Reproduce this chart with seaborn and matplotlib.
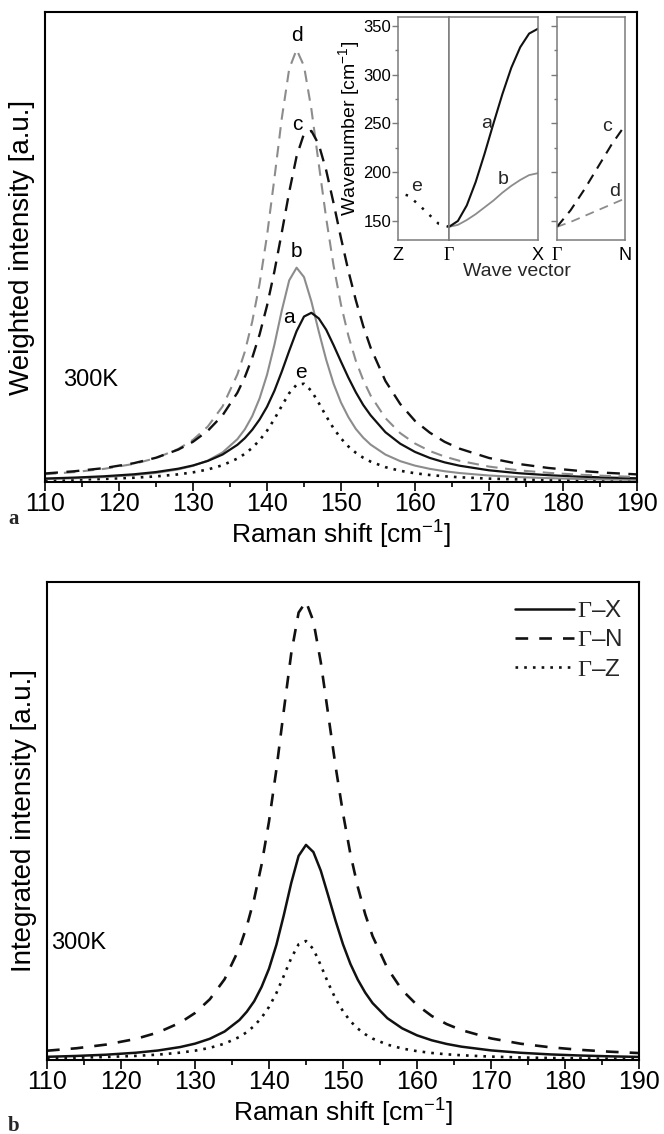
import matplotlib
matplotlib.use("Agg")
import matplotlib.pyplot as plt
import seaborn as sns
from matplotlib.ticker import FixedLocator, MultipleLocator

# ---------------- data ----------------
raman_shift = [110, 114, 118, 122, 125, 128, 130, 132, 134, 136, 137, 138, 139, 140,
               141, 142, 143, 144, 145, 146, 147, 148, 149, 150, 151, 152, 153, 154,
               156, 158, 160, 162, 164, 166, 170, 174, 178, 182, 186, 190]

# panel a: weighted intensity (a.u.)
w_a = [0.74, 0.94, 1.22, 1.64, 2.12, 2.83, 3.52, 4.48, 5.85, 7.91, 9.32, 11.1, 13.3, 16.0,
       19.4, 23.5, 27.9, 32.1, 35.2, 36.0, 34.8, 32.4, 29.1, 25.6, 22.2, 19.1, 16.4, 14.2,
       10.6, 8.15, 6.40, 5.12, 4.18, 3.47, 2.49, 1.87, 1.45, 1.16, 0.94, 0.79]
w_b = [0.62, 0.80, 1.05, 1.46, 1.94, 2.68, 3.44, 4.56, 6.29, 9.12, 11.2, 14.0, 17.8, 22.8,
       29.2, 36.5, 42.9, 45.6, 43.6, 38.4, 32.0, 26.0, 20.9, 16.9, 13.8, 11.3, 9.44, 7.96,
       5.84, 4.44, 3.48, 2.80, 2.29, 1.91, 1.38, 1.05, 0.82, 0.66, 0.54, 0.45]
w_c = [1.81, 2.29, 2.96, 4.00, 5.16, 6.89, 8.56, 10.9, 14.2, 19.0, 22.3, 26.4, 31.4, 37.5,
       44.8, 53.1, 61.7, 69.3, 74.1, 74.7, 71.8, 66.3, 59.3, 51.9, 44.9, 38.7, 33.2, 28.6,
       21.5, 16.6, 13.0, 10.5, 8.55, 7.11, 5.11, 3.84, 2.99, 2.39, 1.95, 1.62]
w_d = [1.65, 2.11, 2.80, 3.85, 5.09, 7.02, 8.97, 11.8, 16.1, 22.9, 27.7, 34.1, 42.2, 52.4,
       64.6, 77.4, 87.9, 92.0, 88.5, 79.3, 67.6, 56.1, 46.0, 37.7, 31.1, 25.8, 21.7, 18.4,
       13.6, 10.4, 8.19, 6.59, 5.41, 4.52, 3.28, 2.49, 1.95, 1.57, 1.29, 1.07]
w_e = [0.40, 0.50, 0.66, 0.91, 1.19, 1.62, 2.05, 2.66, 3.57, 4.99, 5.99, 7.26, 8.89, 10.9,
       13.4, 16.2, 18.9, 20.7, 20.9, 19.4, 16.8, 14.0, 11.4, 9.27, 7.56, 6.22, 5.17, 4.34,
       3.16, 2.39, 1.86, 1.49, 1.21, 1.01, 0.72, 0.55, 0.42, 0.34, 0.28, 0.23]

# panel b: integrated intensity (a.u.)
i_GX = [0.67, 0.85, 1.11, 1.52, 1.99, 2.71, 3.42, 4.44, 5.96, 8.36, 10.1, 12.3, 15.3, 19.1,
        24.1, 30.3, 37.0, 42.7, 45.0, 43.5, 39.6, 34.4, 29.1, 24.2, 20.1, 16.8, 14.1, 11.9,
        8.74, 6.62, 5.16, 4.12, 3.36, 2.79, 2.01, 1.51, 1.17, 0.94, 0.77, 0.64]
i_GN = [1.94, 2.46, 3.23, 4.41, 5.76, 7.81, 9.83, 12.7, 16.9, 23.4, 28.0, 33.7, 40.9, 49.9,
        60.8, 73.1, 85.0, 93.6, 95.9, 91.8, 83.2, 72.3, 61.4, 51.6, 43.1, 36.2, 30.5, 25.9,
        19.2, 14.6, 11.5, 9.20, 7.52, 6.26, 4.52, 3.41, 2.66, 2.13, 1.74, 1.45]
i_GZ = [0.38, 0.48, 0.63, 0.86, 1.12, 1.54, 1.95, 2.54, 3.42, 4.82, 5.83, 7.14, 8.87, 11.1,
        14.0, 17.6, 21.3, 24.2, 24.9, 23.2, 19.8, 16.1, 12.8, 10.2, 8.12, 6.57, 5.39, 4.48,
        3.21, 2.40, 1.85, 1.47, 1.19, 0.99, 0.71, 0.53, 0.41, 0.33, 0.27, 0.22]

# inset: phonon dispersion (cm^-1) vs reduced wave vector
q_GX = [0.0, 0.1, 0.2, 0.3, 0.4, 0.5, 0.6, 0.7, 0.8, 0.9, 1.0]
disp_a = [144, 150, 166, 190, 219, 250, 280, 307, 328, 342, 347]
disp_b = [144, 146, 151, 157, 164, 171, 179, 186, 192, 197, 199]
q_GZ = [0.0, 0.2, 0.4, 0.6, 0.8, 1.0]
disp_e = [144, 147, 157, 167, 176, 179]
q_GN = [0.0, 0.2, 0.4, 0.6, 0.8, 1.0]
disp_c = [144, 161, 182, 205, 228, 248]
disp_d = [144, 149, 155, 161, 167, 173]

x_ticks = [110, 120, 130, 140, 150, 160, 170, 180, 190]
inset_yticks = [150, 200, 250, 300, 350]
GAMMA = r"$\mathsf{\Gamma}$"
legend_labels = [GAMMA + "–X", GAMMA + "–N", GAMMA + "–Z"]

# ---------------- style ----------------
sns.set_theme(style="ticks")
plt.rcParams["font.family"] = ["Liberation Sans", "DejaVu Sans"]
plt.rcParams["mathtext.fontset"] = "custom"
plt.rcParams["mathtext.rm"] = "Liberation Sans"
plt.rcParams["mathtext.it"] = "Liberation Sans:italic"
plt.rcParams["mathtext.bf"] = "Liberation Sans:bold"
plt.rcParams["mathtext.sf"] = "Liberation Serif"

W, H = 664, 1134
fig = plt.figure(figsize=(W / 100, H / 100), dpi=100)
fig.patch.set_facecolor("white")


def frame(l, t, r, b):
    return [l / W, 1 - b / H, (r - l) / W, (b - t) / H]


GRAY = "#8c8c8c"
BLACK = "#111111"
DASH = (0, (5.5, 3.6))
DOT = (0, (1.0, 2.3))

ax1 = fig.add_axes(frame(45, 12, 637, 482))
ax2 = fig.add_axes(frame(47, 582, 639, 1060))


def curve(ax, x, y, color, ls, lw):
    sns.lineplot(x=x, y=y, ax=ax, color=color, linestyle=ls, linewidth=lw)
    return ax.lines[-1]


curve(ax1, raman_shift, w_e, BLACK, DOT, 1.9)
curve(ax1, raman_shift, w_b, GRAY, "-", 1.5)
curve(ax1, raman_shift, w_a, BLACK, "-", 1.6)
curve(ax1, raman_shift, w_d, GRAY, DASH, 1.5)
curve(ax1, raman_shift, w_c, BLACK, DASH, 1.7)

h_gz = curve(ax2, raman_shift, i_GZ, BLACK, DOT, 1.9)
h_gx = curve(ax2, raman_shift, i_GX, BLACK, "-", 1.8)
h_gn = curve(ax2, raman_shift, i_GN, BLACK, (0, (4.8, 4.2)), 1.9)

for ax, ylab in ((ax1, "Weighted intensity [a.u.]"), (ax2, "Integrated intensity [a.u.]")):
    ax.set_xlim(110, 190)
    ax.set_ylim(0, 100)
    ax.set_yticks([])
    ax.xaxis.set_major_locator(FixedLocator(x_ticks))
    ax.xaxis.set_minor_locator(MultipleLocator(5))
    ax.tick_params(axis="x", which="major", direction="out", length=6.5, width=1.2,
                   labelsize=18, pad=1, colors="black")
    ax.tick_params(axis="x", which="minor", direction="out", length=3.8, width=1.2,
                   colors="black")
    for s in ax.spines.values():
        s.set_visible(True)
        s.set_linewidth(1.5)
        s.set_color("black")
    ax.set_xlabel("Raman shift [cm$^{-1}$]", fontsize=19, labelpad=2, color="black")
    ax.set_ylabel(ylab, fontsize=20, labelpad=7, color="black")
    ax.set_facecolor("white")

# curve letters in panel a
for lab, xx, yy in (("d", 144.0, 95.0), ("c", 144.1, 76.0), ("b", 144.0, 49.0),
                    ("a", 143.0, 35.0), ("e", 144.6, 23.2)):
    ax1.text(xx, yy, lab, fontsize=15, ha="center", va="center", color="black")

ax1.text(112.4, 21.7, "300K", fontsize=17, ha="left", va="center", color="black")
ax2.text(110.6, 24.5, "300K", fontsize=17, ha="left", va="center", color="black")

fig.text(8 / W, 1 - 519 / H, "a", fontsize=15, fontweight="bold", family="Liberation Serif",
         ha="left", va="center")
fig.text(8 / W, 1 - 1126 / H, "b", fontsize=15, fontweight="bold", family="Liberation Serif",
         ha="left", va="center")

ax2.legend([h_gx, h_gn, h_gz], legend_labels, loc="upper right",
           bbox_to_anchor=(0.972, 0.962), frameon=False, fontsize=17.5,
           handlelength=2.4, handletextpad=0.15, labelspacing=0.3,
           borderpad=0, borderaxespad=0)

# ---------------- inset ----------------
IN_T, IN_B = 17, 240
ax_z = fig.add_axes(frame(398, IN_T, 449, IN_B))
ax_x = fig.add_axes(frame(449, IN_T, 538, IN_B))
ax_n = fig.add_axes(frame(557, IN_T, 625, IN_B))

curve(ax_z, q_GZ, disp_e, BLACK, (0, (1.0, 3.2)), 1.8)
curve(ax_x, q_GX, disp_b, GRAY, "-", 1.3)
curve(ax_x, q_GX, disp_a, BLACK, "-", 1.5)
curve(ax_n, q_GN, disp_d, GRAY, (0, (5, 3.5)), 1.3)
curve(ax_n, q_GN, disp_c, BLACK, (0, (5, 3.5)), 1.5)

ax_z.set_xlim(1, 0)
ax_x.set_xlim(0, 1)
ax_n.set_xlim(0, 1)
for ax in (ax_z, ax_x, ax_n):
    ax.set_ylim(130.5, 359)
    ax.set_facecolor("white")
    for s in ax.spines.values():
        s.set_visible(True)
        s.set_color("#7a7a7a")
        s.set_linewidth(1.1)
    ax.set_xlabel("")
    ax.set_ylabel("")
    ax.tick_params(axis="x", length=0, labelsize=13, pad=5, colors="black")

ax_z.set_xticks([1])
ax_z.set_xticklabels(["Z"])
ax_x.set_xticks([0, 1])
ax_x.set_xticklabels([GAMMA, "X"])
ax_n.set_xticks([0, 1])
ax_n.set_xticklabels([GAMMA, "N"])

for ax in (ax_z, ax_n):
    ax.yaxis.set_major_locator(FixedLocator(inset_yticks))
    ax.yaxis.set_minor_locator(MultipleLocator(25))
    ax.tick_params(axis="y", which="major", direction="out", length=4, width=1.0,
                   color="#7a7a7a", labelsize=12, pad=1, labelcolor="black")
    ax.tick_params(axis="y", which="minor", direction="out", length=2.2, width=1.0,
                   color="#7a7a7a")
ax_n.tick_params(axis="y", labelleft=False)
ax_x.set_yticks([])
ax_x.tick_params(axis="y", which="both", length=0)

ax_z.set_ylabel("Wavenumber [cm$^{-1}$]", fontsize=14, labelpad=1, color="black")

for lab, xx, yy in (("a", 0.42, 250), ("b", 0.61, 192)):
    ax_x.text(xx, yy, lab, fontsize=14, ha="center", va="center")
ax_z.text(0.63, 185, "e", fontsize=14, ha="center", va="center")
for lab, xx, yy in (("c", 0.74, 247), ("d", 0.85, 180)):
    ax_n.text(xx, yy, lab, fontsize=14, ha="center", va="center")

fig.text(517 / W, 1 - 272 / H, "Wave vector", fontsize=14, ha="center", va="center")

fig.savefig("out.png", dpi=100, facecolor="white")
